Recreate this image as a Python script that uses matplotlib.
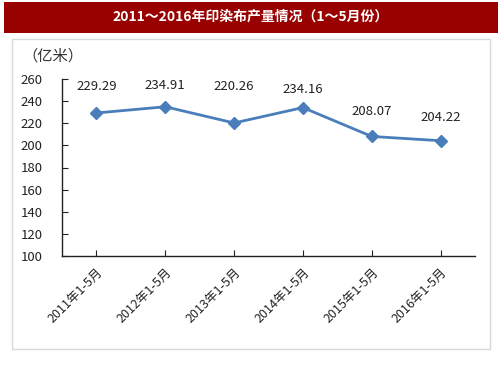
import matplotlib.pyplot as plt
from matplotlib.patches import Rectangle

plt.rcParams['font.family'] = ['Noto Sans CJK SC', 'DejaVu Sans']

years = ['2011年1-5月', '2012年1-5月', '2013年1-5月', '2014年1-5月', '2015年1-5月', '2016年1-5月']
output = [229.29, 234.91, 220.26, 234.16, 208.07, 204.22]
yticks = [100, 120, 140, 160, 180, 200, 220, 240, 260]

W, H = 503, 378
fig = plt.figure(figsize=(W / 100, H / 100), dpi=100)

# title bar
fig.patches.append(Rectangle((4 / W, 1 - 33 / H), 494 / W, 31 / H, transform=fig.transFigure,
                             facecolor='#990000', edgecolor='none', zorder=0))
fig.text(251 / W, 1 - 17 / H, '2011～2016年印染布产量情况（1～5月份）', color='white',
         ha='center', va='center', fontsize=10, fontweight='bold')

# chart frame
fig.patches.append(Rectangle((12 / W, 1 - 349 / H), 478 / W, 310 / H, transform=fig.transFigure,
                             facecolor='white', edgecolor='#d9d9d9', lw=1, zorder=0))
fig.text(22 / W, 1 - 56 / H, '（亿米）', fontsize=11, color='#333333', ha='left', va='center')

ax = fig.add_axes([62 / W, 1 - 256 / H, 413 / W, 177 / H])
ax.set_zorder(2)
ax.patch.set_alpha(0)
x = range(len(years))
ax.plot(x, output, color='#4a7ebb', lw=2, marker='D', ms=6, zorder=3)

label_dy = [19, 15, 26, 13, 18, 16.5]
for i, v in enumerate(output):
    ax.annotate(f'{v:.2f}', (i, v), xytext=(0, label_dy[i]), textcoords='offset points',
                ha='center', va='center', fontsize=9.5, color='#222222')

ax.set_xlim(-0.5, len(years) - 0.5)
ax.set_ylim(100, 260)
ax.set_yticks(yticks)
ax.set_xticks(list(x))
ax.set_xticklabels(years, rotation=45, ha='right', rotation_mode='anchor', fontsize=9)
ax.tick_params(axis='y', direction='in', length=4, labelsize=9.5, pad=14, colors='#222222')
ax.tick_params(axis='x', direction='in', length=4, pad=7, colors='#222222')
for s in ['top', 'right']:
    ax.spines[s].set_visible(False)
for s in ['left', 'bottom']:
    ax.spines[s].set_color('#222222')
    ax.spines[s].set_linewidth(1)

fig.savefig('out.png', dpi=100)
